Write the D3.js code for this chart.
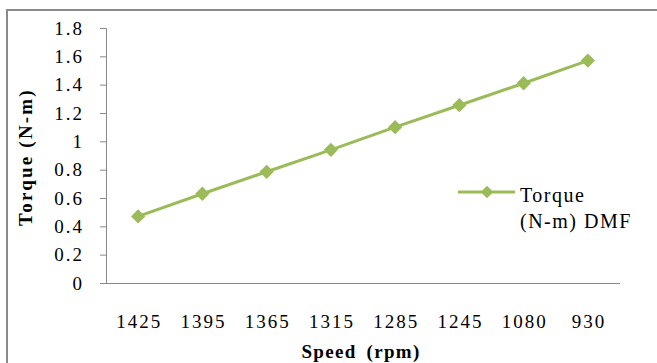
<!DOCTYPE html>
<html>
<head>
<meta charset="utf-8">
<script src="https://cdnjs.cloudflare.com/ajax/libs/d3/7.8.5/d3.min.js"></script>
<style>
  body { margin: 0; background: #fff; }
  svg text { font-family: 'Liberation Serif'; fill: #000; }
</style>
</head>
<body>
<div id="chart"></div>
<script>
// data
const speeds = ['1425', '1395', '1365', '1315', '1285', '1245', '1080', '930'];
const torque = [0.47, 0.63, 0.785, 0.94, 1.10, 1.255, 1.41, 1.57];
const yTicks = [0, 0.2, 0.4, 0.6, 0.8, 1, 1.2, 1.4, 1.6, 1.8];
const seriesName = ['Torque', '(N-m) DMF'];

const width = 657,
      height = 363;

const green = '#9bbb59',
      axisGrey = '#8a8a8a',
      serif = "'Liberation Serif'";

const svg = d3.select('#chart').append('svg')
    .attr('width', width)
    .attr('height', height)
    .attr('font-family', serif);

// outer chart frame (runs off the right and bottom edges)
svg.append('rect')
    .attr('x', 7)
    .attr('y', 10)
    .attr('width', 700)
    .attr('height', 400)
    .attr('fill', 'none')
    .attr('stroke', axisGrey)
    .attr('stroke-width', 2);

// plot area
const plotLeft = 106, plotRight = 620, plotTop = 28, plotBottom = 283;

const x = d3.scaleBand().domain(speeds).range([plotLeft, plotRight]);
const y = d3.scaleLinear().domain([0, 1.8]).range([plotBottom, plotTop]);

// y axis
const yAxis = svg.append('g')
    .attr('transform', 'translate(' + plotLeft + ',0)')
    .call(d3.axisLeft(y).tickValues(yTicks).tickSize(6).tickPadding(16)
      .tickFormat(d3.format('~g')))
    .attr('font-family', serif)
    .attr('font-size', 19);
yAxis.select('.domain').attr('stroke', axisGrey);
yAxis.selectAll('line').attr('stroke', axisGrey);
yAxis.selectAll('text')
    .style('letter-spacing', '2px');

// x axis (no tick marks, Excel style)
const xAxis = svg.append('g')
    .attr('transform', 'translate(0,' + plotBottom + ')')
    .call(d3.axisBottom(x).tickSize(0).tickPadding(32))
    .attr('font-family', serif)
    .attr('font-size', 19);
xAxis.select('.domain').attr('d', 'M' + (plotLeft - 6) + ',0.5H' + plotRight)
    .attr('stroke', axisGrey);
xAxis.selectAll('text')
    .attr('dx', 1)
    .style('letter-spacing', '2px');

// axis titles
svg.append('text')
    .attr('transform', 'translate(32,157) rotate(-90)')
    .attr('text-anchor', 'middle')
    .style('font-size', '19px')
    .style('font-weight', 'bold')
    .style('letter-spacing', '2.2px')
    .text('Torque (N-m)');

svg.append('text')
    .attr('x', 361)
    .attr('y', 358)
    .attr('text-anchor', 'middle')
    .style('font-size', '19px')
    .style('font-weight', 'bold')
    .style('letter-spacing', '1.3px')
    .style('word-spacing', '4px')
    .text('Speed (rpm)');

// line + markers
const data = speeds.map(function(s, i) { return {speed: s, value: torque[i]}; });

const cx = function(d) { return x(d.speed) + x.bandwidth() / 2; };

const line = d3.line()
    .x(cx)
    .y(function(d) { return y(d.value); });

svg.append('path')
    .datum(data)
    .attr('fill', 'none')
    .attr('stroke', green)
    .attr('stroke-width', 3)
    .attr('d', line);

const diamond = d3.symbol().type(d3.symbolDiamond2).size(130);

svg.selectAll('.marker')
    .data(data)
  .enter().append('path')
    .attr('class', 'marker')
    .attr('transform', function(d) {
      return 'translate(' + cx(d) + ',' + y(d.value) + ')';
    })
    .attr('fill', green)
    .attr('d', diamond);

// legend
const legend = svg.append('g').attr('transform', 'translate(458,192)');
legend.append('line')
    .attr('x1', 0).attr('x2', 57)
    .attr('stroke', green)
    .attr('stroke-width', 3);
legend.append('path')
    .attr('transform', 'translate(29,0)')
    .attr('fill', green)
    .attr('d', d3.symbol().type(d3.symbolDiamond2).size(100)());
legend.selectAll('.lbl')
    .data(seriesName)
  .enter().append('text')
    .attr('class', 'lbl')
    .attr('x', 62)
    .attr('y', function(d, i) { return 10 + i * 26; })
    .style('font-size', '20px')
    .style('letter-spacing', '1.5px')
    .text(function(d) { return d; });
</script>
</body>
</html>
